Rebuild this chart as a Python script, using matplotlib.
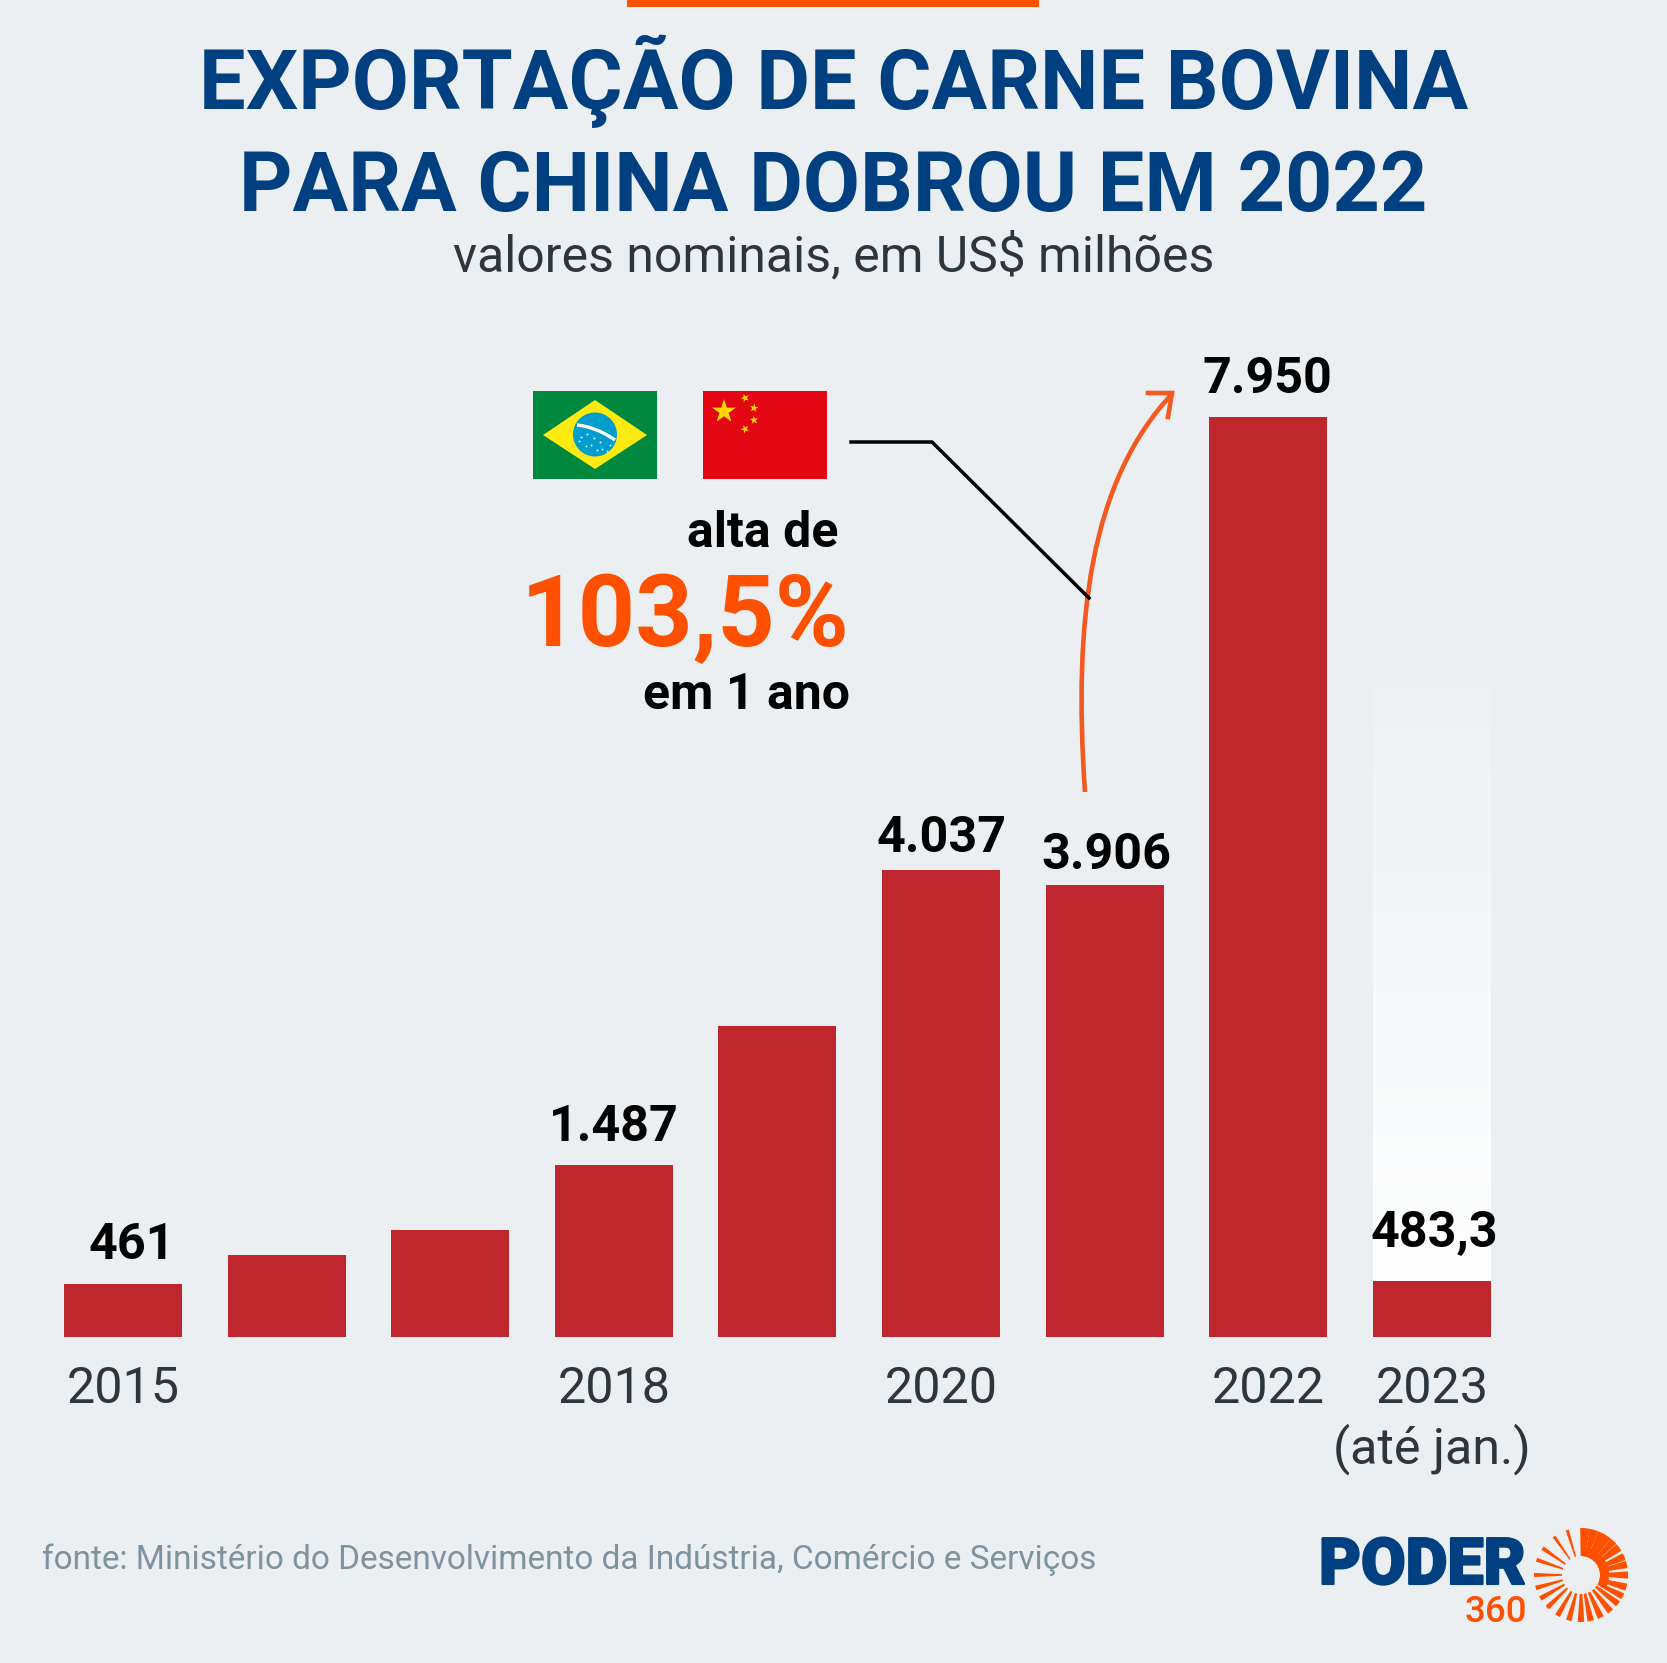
#!/bin/python3
import matplotlib
matplotlib.use('Agg')
import matplotlib.pyplot as plt
import matplotlib.patheffects as pe
import numpy as np
from matplotlib.patches import Rectangle, Polygon, Circle, Wedge, PathPatch
from matplotlib.path import Path

plt.rcParams['font.family'] = ['Roboto', 'DejaVu Sans']

years = ['2015', '2016', '2017', '2018', '2019', '2020', '2021', '2022', '2023']
values = [461, 708, 928, 1487, 2684, 4037, 3906, 7950, 483.3]
value_labels = ['461', '', '', '1.487', '', '4.037', '3.906', '7.950', '483,3']
tick_labels = ['2015', '', '', '2018', '', '2020', '', '2022', '2023\n(até jan.)']

# label nudges, in pixels from the top of each bar
label_dx = [9, 0, 0, 0, 0, 1, 2, -1, 3]
label_dy = [25, 0, 0, 24, 0, 18, 16, 24, 34]

BG = '#ebeff2'
BLUE = '#004080'
RED = '#bf262e'
ORANGE = '#ff5000'
ARROW = '#f4591f'
DARK = '#2c363c'
GREY = '#7e929f'

W, H = 1667, 1663
fig = plt.figure(figsize=(W / 100, H / 100), dpi=100, facecolor=BG)

# bars axes, baseline at y=1337 px, x in bar index
base_px = 1337
ax = fig.add_axes([0, (H - base_px) / H, 1, base_px / H])
ax.set_facecolor('none')
step = 163.6
first = 123
px_per_unit = 0.11572
xlim = (-first / step, (W - first) / step)
ylim = (0, base_px / px_per_unit)

x = np.arange(len(years))
grad = np.ones((256, 1, 4))
grad[:, 0, 3] = np.linspace(0, 1, 256) ** 0.85
ax.imshow(grad, extent=(x[-1] - 0.36, x[-1] + 0.36, 0, 6120), origin='upper',
          aspect='auto', zorder=1)
ax.bar(x, values, width=0.722, color=RED, zorder=2)
ax.set_xlim(*xlim)
ax.set_ylim(*ylim)
for s in ax.spines.values():
    s.set_visible(False)
ax.set_yticks([])
ax.set_xticks(x)
ax.set_xticklabels(tick_labels, fontsize=36.2, color=DARK, linespacing=1.24)
ax.tick_params(axis='x', length=0, pad=20.5)

for i, lab in enumerate(value_labels):
    if lab:
        ax.annotate(lab, (x[i], values[i]), xytext=(label_dx[i], label_dy[i]),
                    textcoords='offset pixels', ha='center', va='baseline',
                    fontsize=36.2, fontweight='bold', color='black', zorder=3)

# overlay in image pixels for title, flags, callout and logo
ov = fig.add_axes([0, 0, 1, 1])
ov.set_xlim(0, W)
ov.set_ylim(H, 0)
ov.axis('off')
ov.patch.set_alpha(0)

ov.add_patch(Rectangle((627, 0), 412, 7, color=ORANGE, lw=0))
ov.text(834, 109.5, 'EXPORTAÇÃO DE CARNE BOVINA', ha='center', va='baseline',
        fontsize=59.6, fontweight='bold', color=BLUE)
ov.text(833.5, 210.5, 'PARA CHINA DOBROU EM 2022', ha='center', va='baseline',
        fontsize=59.6, fontweight='bold', color=BLUE)
ov.text(833.5, 271.5, 'valores nominais, em US$ milhões', ha='center', va='baseline',
        fontsize=35.9, color=DARK)

# brazil flag
ov.add_patch(Rectangle((533, 391), 124, 88, color='#00883f', lw=0))
ov.add_patch(Polygon([(543, 435), (595, 400), (647, 435), (595, 469)], color='#fdea10', lw=0))
ov.add_patch(Circle((595, 434.5), 22, color='#029ccd', lw=0))
t = np.linspace(0, 1, 30)
ov.plot(577 + 38 * t, 425 + 4 * t + 11 * t ** 2, color='white', lw=2.4, solid_capstyle='butt')
for sx, sy in [(579, 441), (581, 437), (587, 434), (594, 438), (591, 445), (597, 450),
               (602, 449), (607, 451), (610, 445), (586, 446), (600, 442)]:
    ov.plot(sx, sy, 's', color='white', ms=1.2, mew=0)


def star(cx, cy, r, rot=90):
    ang = np.deg2rad(np.arange(10) * 36 + rot)
    rad = np.where(np.arange(10) % 2 == 0, r, r * 0.382)
    return np.column_stack([cx + rad * np.cos(ang), cy - rad * np.sin(ang)])


# china flag
ov.add_patch(Rectangle((703, 391), 124, 88, color='#e30613', lw=0))
ov.add_patch(Polygon(star(724, 411.5, 12.5), color='#ffd800', lw=0))
for sx, sy, rot in [(745, 398, 110), (754, 408, 80), (754, 420, 95), (745, 429, 115)]:
    ov.add_patch(Polygon(star(sx, sy, 4.5, rot), color='#ffd800', lw=0))

# callout line
ov.plot([851, 932, 1089], [442, 442, 598], color='black', lw=2.5,
        solid_joinstyle='miter', zorder=4)

# arrow from 2021 to 2022
curve = Path([(1085, 792), (1073, 620), (1090, 480), (1173, 393)],
             [Path.MOVETO, Path.CURVE4, Path.CURVE4, Path.CURVE4])
ov.add_patch(PathPatch(curve, fc='none', ec=ARROW, lw=3.3, zorder=3))
ov.plot([1148, 1172, 1168], [393, 393, 417], color=ARROW, lw=3.3,
        solid_joinstyle='miter', zorder=3)

ov.text(838, 547, 'alta de', ha='right', va='baseline', fontsize=36,
        fontweight='bold', color='black')
ov.text(850, 646, '103,5%', ha='right', va='baseline', fontsize=72.3,
        fontweight='bold', color=ORANGE)
ov.text(850, 709, 'em 1 ano', ha='right', va='baseline', fontsize=36,
        fontweight='bold', color='black')

ov.text(42.5, 1569, 'fonte: Ministério do Desenvolvimento da Indústria, Comércio e Serviços',
        ha='left', va='baseline', fontsize=24, color=GREY)

# logo
ov.text(1526, 1584, 'PODER', ha='right', va='baseline', fontsize=46.5, fontweight='black',
        color=BLUE, path_effects=[pe.withStroke(linewidth=1.5, foreground=BLUE)])
ov.text(1527, 1622, '360', ha='right', va='baseline', fontsize=26.5, fontweight='medium',
        color=ORANGE)
ray_angles = [85, 74, 64, 55, 46, 36, 23, 13, 0, -15, -27, -38, -51, -65, -78, -90,
              -105, -120, -136, -150, -164, -180, -199, -215, -235, -253]
ray_widths = [12, 10, 10, 9, 9, 10, 9, 9, 9, 9, 8, 8, 8, 8, 8, 8,
              7, 6.5, 6, 6, 5.5, 5, 5, 5, 4, 4]
cx, cy = 1581, 1575
for a, wd in zip(ray_angles, ray_widths):
    # y axis of the overlay is flipped, so angles go negative
    ov.add_patch(Wedge((cx, cy), 47, -a - wd / 2, -a + wd / 2, width=28, color=ORANGE, lw=0))
ov.add_patch(Wedge((cx, cy), 28, -90, 25, width=9, color=ORANGE, lw=0))

fig.savefig('out.png', dpi=100, facecolor=BG)
